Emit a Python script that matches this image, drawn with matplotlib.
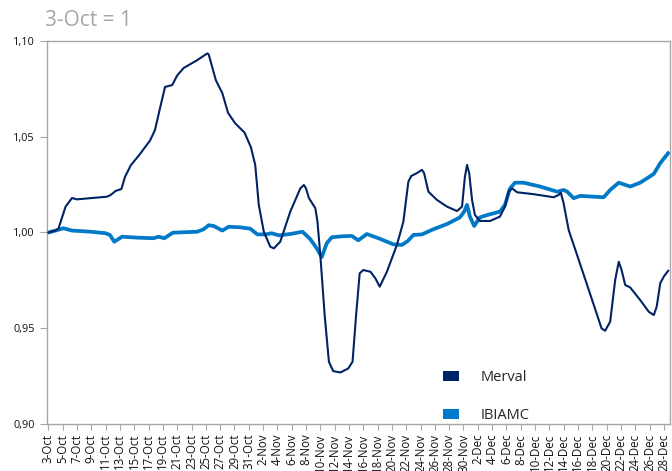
import datetime as dt
import matplotlib
matplotlib.use('Agg')
import matplotlib.pyplot as plt
from matplotlib.patches import Patch
from matplotlib.ticker import FuncFormatter

plt.rcParams['font.family'] = ['Open Sans', 'DejaVu Sans']

# days counted from 3-Oct
start = dt.date(2018, 10, 3)

merval_days = [0, 1, 1.4, 2.4, 3.3, 4, 8.2, 8.7, 9.4, 10.2, 10.7, 11.5, 12.8, 14.2, 14.9,
               15.6, 16.3, 17.3, 18, 18.9, 20.8, 22.2, 22.4, 23.4, 24.3, 25.1, 26.1, 27.4,
               28.3, 28.9, 29.4, 30.1, 31, 31.5, 32.4, 33.8, 35.2, 35.7, 36, 36.4, 37.3,
               37.6, 38, 38.6, 39.2, 39.8, 40.8, 41.9, 42.5, 43, 43.5, 44, 45, 45.7, 46.3,
               47.3, 48.7, 49.6, 50.3, 50.7, 51.5, 52.2, 52.5, 53.1, 54.3, 55.7, 57.1,
               57.8, 58.2, 58.5, 58.8, 59.2, 59.6, 60.3, 61.7, 63.1, 63.8, 64.3, 64.8,
               65.5, 67.8, 70.6, 71.3, 71.6, 72, 72.7, 73.8, 75.2, 76.6, 77.3, 77.8,
               78.5, 79.2, 79.7, 80.1, 80.6, 81.3, 82.7, 83.9, 84.6, 85, 85.5, 86, 86.6]
merval = [1.000, 1.001, 1.002, 1.0135, 1.018, 1.0173, 1.0187, 1.0196, 1.0217, 1.0227,
          1.029, 1.035, 1.041, 1.048, 1.0536, 1.065, 1.076, 1.077, 1.082, 1.0859, 1.090,
          1.0935, 1.093, 1.0795, 1.0728, 1.0625, 1.057, 1.0522, 1.0445, 1.0353, 1.0144,
          1.0004, 0.9926, 0.9917, 0.9952, 1.0109, 1.023, 1.0248, 1.023, 1.018, 1.0127,
          1.0056, 0.988, 0.957, 0.9325, 0.9276, 0.9269, 0.929, 0.9325, 0.957, 0.9787,
          0.9804, 0.9795, 0.976, 0.9717, 0.9795, 0.9935, 1.0056, 1.0265, 1.0295, 1.031,
          1.0327, 1.031, 1.0213, 1.017, 1.0135, 1.0112, 1.0135, 1.029, 1.0353, 1.031,
          1.017, 1.0092, 1.006, 1.006, 1.0083, 1.0135, 1.0213, 1.023, 1.021, 1.020,
          1.0184, 1.0196, 1.0208, 1.0152, 1.0013, 0.9891, 0.9735, 0.9578, 0.9499,
          0.9487, 0.9534, 0.9752, 0.9847, 0.9804, 0.9726, 0.9713, 0.9647, 0.9586,
          0.9569, 0.9612, 0.9735, 0.977, 0.980]

ibiamc_days = [0, 1, 2.1, 3.3, 5.9, 8, 8.6, 9.2, 10.3, 12.4, 14.7, 15.4, 16.2, 17.4, 20.8,
               21.7, 22.4, 23.1, 24.3, 25.2, 26.8, 28.2, 29.2, 30.3, 31.2, 32.2, 33.8,
               35.5, 36.6, 37.5, 38.2, 38.9, 39.6, 41, 42.4, 43.3, 44.5, 46.4, 48.2, 49.4,
               50.2, 51, 52.2, 53.8, 55.7, 57.5, 58.1, 58.5, 58.9, 59.5, 60.3, 61.3, 63.1,
               63.8, 64.5, 65.2, 66.4, 68.7, 71.1, 72, 72.5, 73.4, 74.3, 77.6, 78.5, 79.7,
               81.3, 82.7, 84.6, 85.5, 86.6]
ibiamc = [1.000, 1.001, 1.0022, 1.001, 1.0004, 0.9996, 0.9987, 0.9952, 0.9978, 0.9973,
          0.997, 0.9978, 0.997, 0.9999, 1.0004, 1.0017, 1.0038, 1.0034, 1.001, 1.003,
          1.0027, 1.002, 0.999, 0.999, 0.9996, 0.9985, 0.9992, 1.0004, 0.9965, 0.9917,
          0.9872, 0.9944, 0.9975, 0.998, 0.9982, 0.9959, 0.9992, 0.9966, 0.9938, 0.9935,
          0.9955, 0.9987, 0.999, 1.0017, 1.0044, 1.0079, 1.0109, 1.0144, 1.0083, 1.0034,
          1.0079, 1.0091, 1.0109, 1.0144, 1.023, 1.026, 1.026, 1.024, 1.0213, 1.0222,
          1.0213, 1.0179, 1.0191, 1.0184, 1.0222, 1.026, 1.024, 1.026, 1.0306, 1.0362,
          1.0414]

tick_days = list(range(0, 87, 2))
tick_labels = []
for d in tick_days:
    day = start + dt.timedelta(days=d)
    tick_labels.append('{}-{}'.format(day.day, day.strftime('%b')))

c_merval = '#002366'
c_ibiamc = '#0079c9'
grey = '#a6a6a6'

fig = plt.figure(figsize=(6.72, 4.71), dpi=100)
ax = fig.add_axes([0.0699, 0.0998, 0.927, 0.8132])
ax.plot(merval_days, merval, color=c_merval, lw=1.5, solid_joinstyle='round', zorder=3)
ax.plot(ibiamc_days, ibiamc, color=c_ibiamc, lw=2.7, solid_joinstyle='round', zorder=2)

ax.set_xlim(-0.2, 86.85)
ax.set_ylim(0.90, 1.10)
ax.set_yticks([0.90, 0.95, 1.00, 1.05, 1.10])
ax.yaxis.set_major_formatter(FuncFormatter(lambda v, p: '{:.2f}'.format(v).replace('.', ',')))
ax.set_xticks(tick_days)
ax.set_xticklabels(tick_labels, rotation=90, fontsize=8.3, color='#111111')
ax.tick_params(axis='y', labelsize=7.8, labelcolor='#111111', length=5, color=grey, pad=4)
ax.tick_params(axis='x', length=4, color=grey, pad=3)
for s in ax.spines.values():
    s.set_color(grey)
    s.set_linewidth(1.0)

handles = [Patch(facecolor=c_merval, label='Merval'), Patch(facecolor=c_ibiamc, label='IBIAMC')]
ax.legend(handles=handles, loc='upper left', bbox_to_anchor=(0.615, 0.175), frameon=False,
          fontsize=10.5, handlelength=1.05, handleheight=0.65, handletextpad=1.5,
          labelspacing=1.6, labelcolor='#262626')

fig.text(45 / 672, 1 - 20 / 471, '3-Oct = 1', color=grey, fontsize=15, va='center', ha='left')

plt.savefig('out.png', dpi=100)
